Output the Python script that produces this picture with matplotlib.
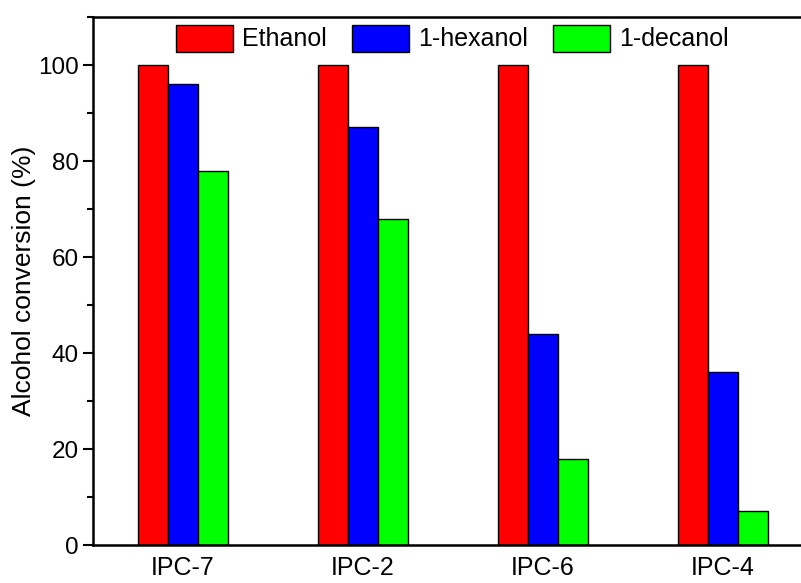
import numpy as np
import matplotlib
matplotlib.use("Agg")
import matplotlib.pyplot as plt
from matplotlib.ticker import MultipleLocator

plt.rcParams["font.family"] = ["Liberation Sans", "DejaVu Sans"]

# conversion data (%)
samples = ["IPC-7", "IPC-2", "IPC-6", "IPC-4"]
ethanol = [100, 100, 100, 100]
hexanol = [96, 87, 44, 36]
decanol = [78, 68, 18, 7]

series = [
    ("Ethanol", ethanol, "#ff0000"),
    ("1-hexanol", hexanol, "#0000ff"),
    ("1-decanol", decanol, "#00ff00"),
]

fig = plt.figure(figsize=(8.01, 5.83), dpi=100)
# right edge of the frame runs off the canvas
ax = fig.add_axes([93 / 801, 38 / 583, 718 / 801, 528 / 583])

x = np.arange(1, len(samples) + 1)
w = 1 / 6
for i, (name, vals, col) in enumerate(series):
    ax.bar(x + (i - 1) * w, vals, width=w, color=col, edgecolor="black",
           linewidth=1.0, label=name)

ax.set_xlim(0.5, 0.5 + 718 / 180)
ax.set_ylim(0, 110)
ax.set_xticks(x)
ax.set_xticklabels(samples)
ax.yaxis.set_major_locator(MultipleLocator(20))
ax.yaxis.set_minor_locator(MultipleLocator(10))
ax.tick_params(axis="y", which="major", direction="out", length=7, width=1.5,
               labelsize=17.5, pad=3)
ax.tick_params(axis="y", which="minor", direction="out", length=4, width=1.5)
ax.tick_params(axis="x", length=0, labelsize=18, pad=8)
ax.set_ylabel("Alcohol conversion (%)", fontsize=19, labelpad=2)

for side in ["left", "bottom", "top"]:
    ax.spines[side].set_linewidth(1.8)
ax.spines["right"].set_visible(False)

ax.legend(loc="upper center", bbox_to_anchor=(0.5, 1.0), ncol=3,
          frameon=False, fontsize=18, handlelength=2.3, handleheight=1.3,
          handletextpad=0.35, columnspacing=1.0, borderpad=0.2,
          borderaxespad=0.1)

fig.savefig("out.png", dpi=100)
